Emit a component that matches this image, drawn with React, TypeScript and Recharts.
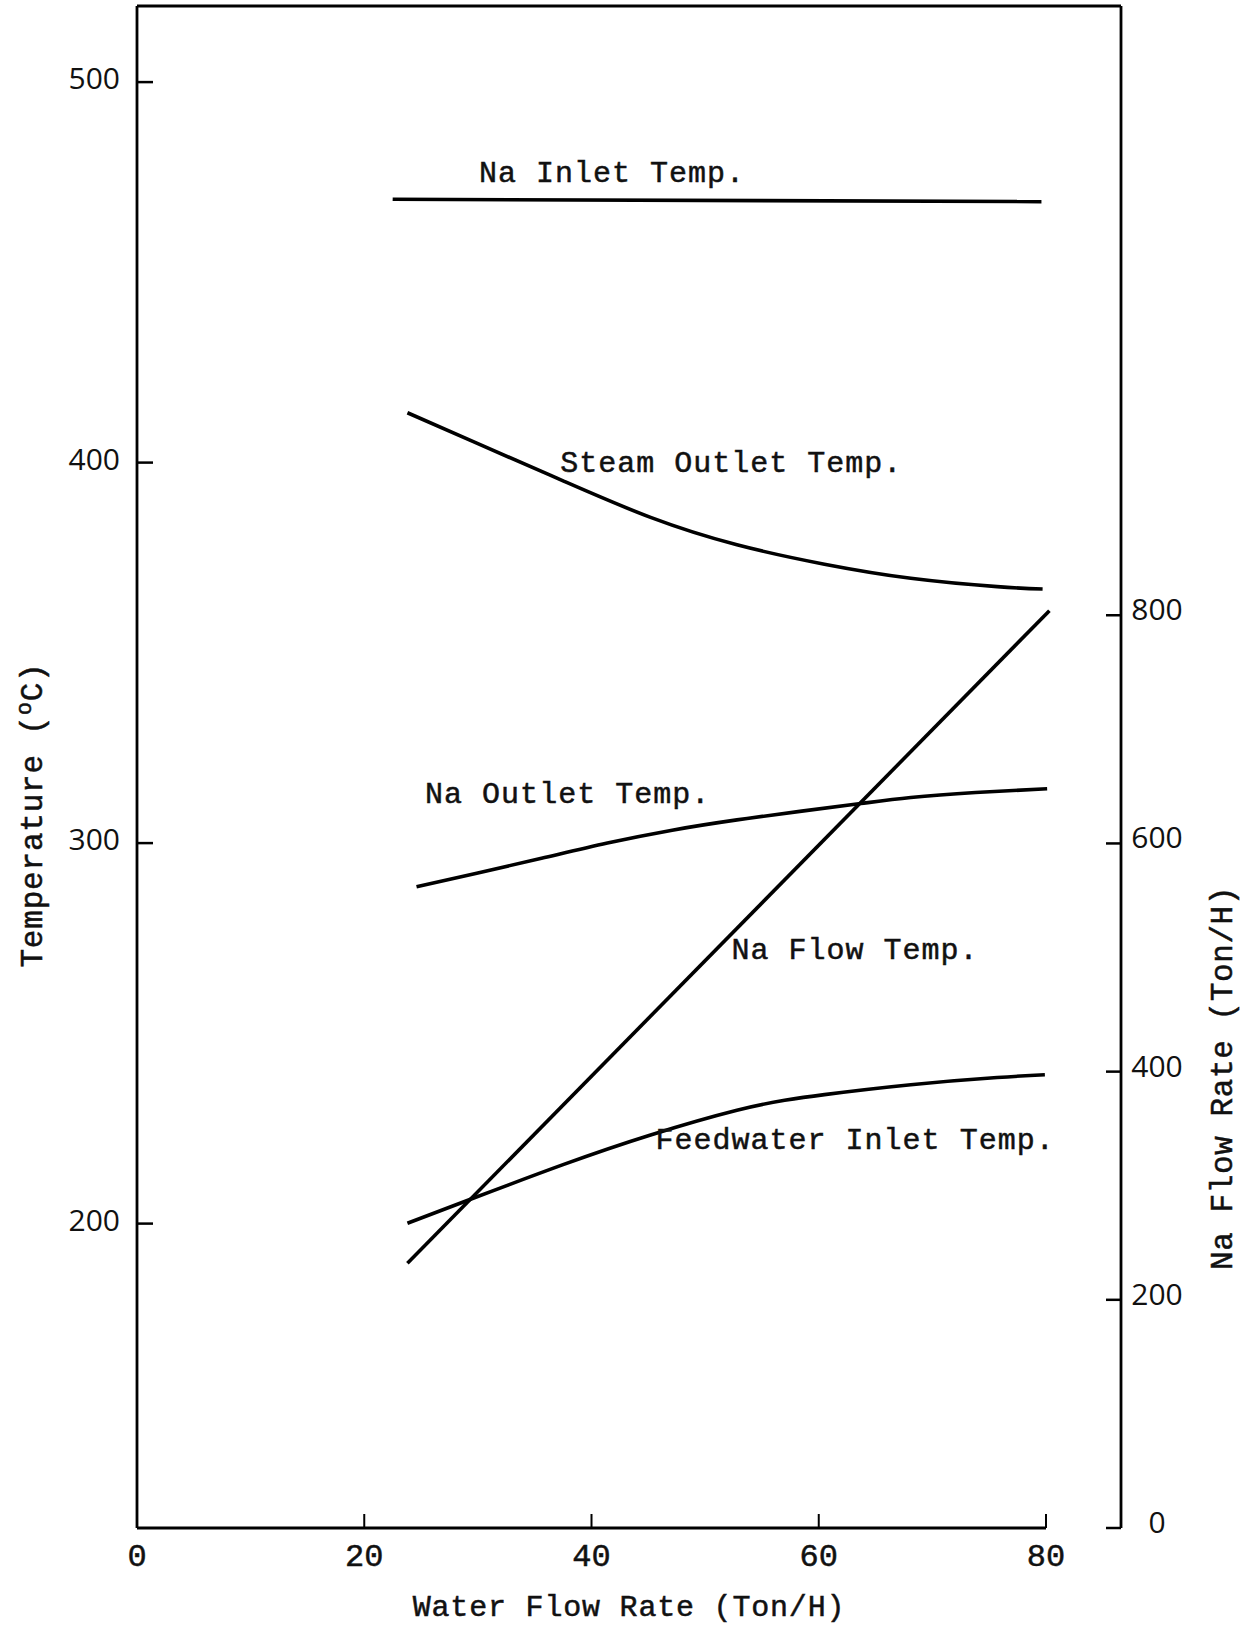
import React from 'react';
import { LineChart, Line, XAxis, YAxis, ReferenceLine, ReferenceDot } from 'recharts';

// Water flow rate (Ton/H) on x, temperatures (°C) on the left, Na flow rate (Ton/H) on the right
const naInletX = [22.5, 79.6];
const naInletT = [469.2, 468.6];

const steamX = [23.8, 29.9, 37.5, 45.2, 52.8, 60.5, 68.1, 75.7, 79.7];
const steamT = [413.1, 405.1, 395.2, 385.6, 378.4, 373.3, 369.6, 367.4, 366.8];

const naOutletX = [24.6, 29.9, 35.6, 41.4, 47.1, 52.8, 58.5, 63.7, 68.1, 73.8, 80.1];
const naOutletT = [288.5, 292.1, 296.0, 300.0, 303.4, 306.1, 308.4, 310.4, 312.0, 313.3, 314.3];

const feedX = [23.8, 29.7, 37.5, 45.2, 52.8, 57.0, 60.5, 68.1, 75.7, 79.9];
const feedT = [200.1, 206.8, 215.5, 223.3, 229.8, 232.4, 233.9, 236.5, 238.4, 239.1];

const naFlowX = [23.8, 80.3];
const naFlowRate = [232, 804];

const xTicks = [0, 20, 40, 60, 80];
const tempTicks = [200, 300, 400, 500];
const flowTicks = [0, 200, 400, 600, 800];

// curve captions, anchored in data space (water flow, temperature)
const noteText = ['Na Inlet Temp.', 'Steam Outlet Temp.', 'Na Outlet Temp.', 'Na Flow Temp.', 'Feedwater Inlet Temp.'];
const noteX = [41.8, 52.3, 37.9, 63.2, 63.2];
const noteT = [473.7, 397.5, 310.5, 269.5, 219.6];

const toPoints = (xs: number[], ys: number[]) => xs.map((x, i) => ({ x, y: ys[i] }));

const MONO = '"Liberation Mono", "Courier New", monospace';
const DIGITS = '"Open Sans", Lato, sans-serif';
const INK = '#111';

const typed = { fontFamily: MONO, fill: INK, stroke: INK, strokeWidth: 0.5 };

const TempTick = ({ x, y, payload }: any) => (
  <g>
    <line x1={x} x2={x + 16} y1={y} y2={y} stroke="#000" strokeWidth={2.5} />
    <text x={x - 17} y={y + 7} textAnchor="end" fontFamily={DIGITS} fontSize={30} fill="#111">
      {payload.value}
    </text>
  </g>
);

const FlowTick = ({ x, y, payload }: any) => (
  <g>
    <line x1={x - 15} x2={x} y1={y} y2={y} stroke="#000" strokeWidth={2.5} />
    <text x={x + 36} y={y + 5} textAnchor="middle" fontFamily={DIGITS} fontSize={30} fill="#111">
      {payload.value}
    </text>
  </g>
);

const WaterTick = ({ x, y, payload }: any) => (
  <g>
    <line x1={x} x2={x} y1={y} y2={y - 14} stroke="#000" strokeWidth={2} />
    <text x={x} y={y + 38} textAnchor="middle" fontSize={32} {...typed}>
      {payload.value}
    </text>
  </g>
);

const noteLabel = (text: string) => (props: any) => {
  const vb = props.viewBox;
  return (
    <text x={vb.x + vb.width / 2} y={vb.y + vb.height / 2} textAnchor="middle" fontSize={30} letterSpacing={1} {...typed}>
      {text}
    </text>
  );
};

const xTitle = (props: any) => {
  const vb = props.viewBox;
  return (
    <text x={vb.x + vb.width / 2} y={vb.y + 88} textAnchor="middle" fontSize={30} letterSpacing={0.8} {...typed}>
      Water Flow Rate (Ton/H)
    </text>
  );
};

const tempTitle = (props: any) => {
  const vb = props.viewBox;
  const cx = vb.x + 42;
  const cy = 815;
  return (
    <text x={cx} y={cy} transform={`rotate(-90, ${cx}, ${cy})`} textAnchor="middle" fontSize={31} letterSpacing={0.8} {...typed}>
      Temperature (<tspan dy={-11} fontSize={22}>o</tspan>
      <tspan dy={11}>C)</tspan>
    </text>
  );
};

const flowTitle = (props: any) => {
  const vb = props.viewBox;
  const cx = vb.x + 111;
  const cy = 1078;
  return (
    <text x={cx} y={cy} transform={`rotate(-90, ${cx}, ${cy})`} textAnchor="middle" fontSize={31} letterSpacing={0.6} {...typed}>
      Na Flow Rate (Ton/H)
    </text>
  );
};

const curve = { stroke: '#000', strokeWidth: 3.6, dot: false, isAnimationActive: false } as const;

export default function App() {
  return (
    <div style={{ width: 1244, height: 1626, background: '#fff' }}>
      <style>{'body{margin:0;background:#fff}'}</style>
      <LineChart width={1244} height={1626} margin={{ top: 6, right: 0, bottom: 0, left: 0 }}>
        <XAxis
          dataKey="x"
          type="number"
          domain={[0, 86.6]}
          ticks={xTicks}
          interval={0}
          height={98}
          axisLine={false}
          tickLine={false}
          tickSize={0}
          tickMargin={0}
          tick={<WaterTick />}
          label={xTitle}
        />
        <YAxis
          yAxisId="left"
          type="number"
          domain={[120, 520]}
          ticks={tempTicks}
          interval={0}
          width={137}
          axisLine={{ stroke: '#000', strokeWidth: 2.8 }}
          tickLine={false}
          tickSize={0}
          tickMargin={0}
          tick={<TempTick />}
          label={tempTitle}
        />
        <YAxis
          yAxisId="right"
          orientation="right"
          type="number"
          domain={[0, 1334]}
          ticks={flowTicks}
          interval={0}
          width={123}
          axisLine={{ stroke: '#000', strokeWidth: 2.8 }}
          tickLine={false}
          tickSize={0}
          tickMargin={0}
          tick={<FlowTick />}
          label={flowTitle}
        />
        <ReferenceLine yAxisId="left" y={520} stroke="#000" strokeWidth={2.8} />
        <ReferenceLine
          yAxisId="left"
          segment={[
            { x: 0, y: 120 },
            { x: 80, y: 120 },
          ]}
          stroke="#000"
          strokeWidth={2.8}
        />
        <Line yAxisId="left" data={toPoints(naInletX, naInletT)} dataKey="y" type="linear" {...curve} />
        <Line yAxisId="left" data={toPoints(steamX, steamT)} dataKey="y" type="natural" {...curve} />
        <Line yAxisId="left" data={toPoints(naOutletX, naOutletT)} dataKey="y" type="natural" {...curve} />
        <Line yAxisId="left" data={toPoints(feedX, feedT)} dataKey="y" type="natural" {...curve} />
        <Line yAxisId="right" data={toPoints(naFlowX, naFlowRate)} dataKey="y" type="linear" {...curve} />
        {noteText.map((t, i) => (
          <ReferenceDot
            key={t}
            yAxisId="left"
            x={noteX[i]}
            y={noteT[i]}
            r={1}
            fill="none"
            stroke="none"
            label={noteLabel(t)}
          />
        ))}
      </LineChart>
    </div>
  );
}
